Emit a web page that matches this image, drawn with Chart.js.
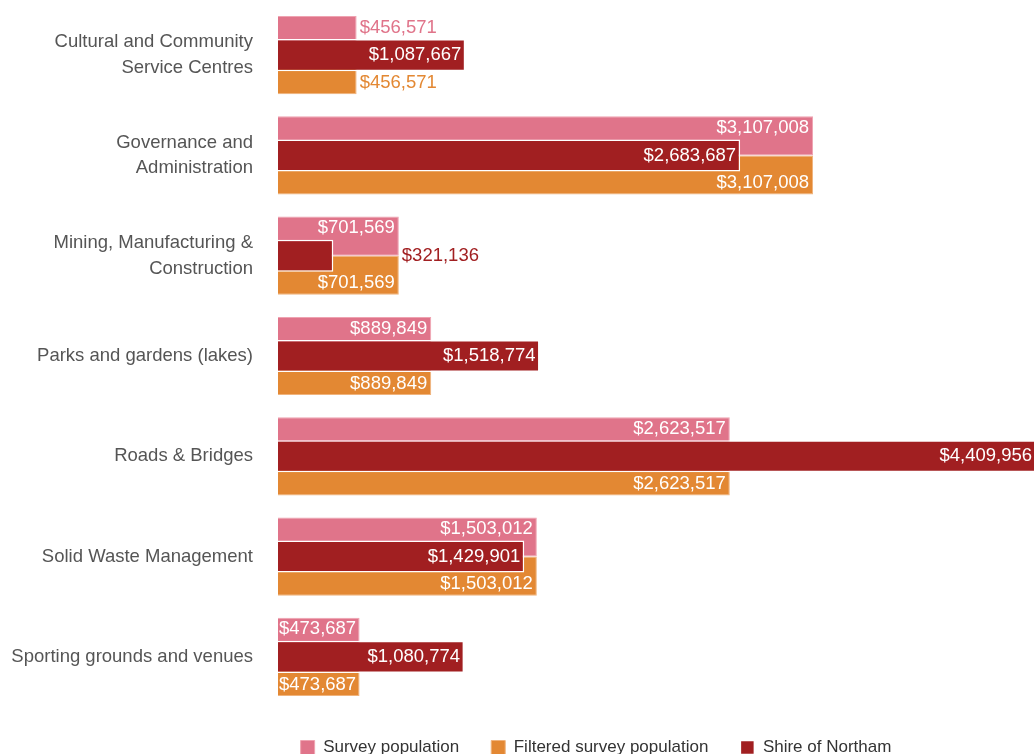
<!DOCTYPE html>
<html>
<head>
<meta charset="utf-8">
<script src="https://cdn.jsdelivr.net/npm/chart.js@4"></script>
<style>
  html, body { margin: 0; padding: 0; background: #fff; overflow: hidden; }
  #wrap { width: 1034px; height: 766px; }
</style>
</head>
<body>
<div id="wrap"><canvas id="myChart" width="1034" height="766"></canvas></div>
<script>
const categories = [
    ['Cultural and Community', 'Service Centres'],
    ['Governance and', 'Administration'],
    ['Mining, Manufacturing &', 'Construction'],
    'Parks and gardens (lakes)',
    'Roads & Bridges',
    'Solid Waste Management',
    'Sporting grounds and venues'
];
const surveyPopulation = [456571, 3107008, 701569, 889849, 2623517, 1503012, 473687];
const filteredPopulation = [456571, 3107008, 701569, 889849, 2623517, 1503012, 473687];
const shireOfNortham = [1087667, 2683687, 321136, 1518774, 4409956, 1429901, 1080774];

const pink = '#E0748A';
const orange = '#E38833';
const darkRed = '#A11F21';
const font = 'Arial, "Liberation Sans", sans-serif';

const money = (v) => '$' + v.toLocaleString('en-US');

// value labels: white inside the bar end, bar coloured outside when it doesn't fit
const valueLabels = {
    id: 'valueLabels',
    afterDatasetsDraw(chart) {
        const c = chart.ctx;
        const metaPink = chart.getDatasetMeta(0);
        const metaOrange = chart.getDatasetMeta(1);
        const metaShire = chart.getDatasetMeta(2);
        c.save();
        c.font = '18.5px ' + font;
        c.textBaseline = 'middle';
        c.textAlign = 'left';
        categories.forEach((cat, i) => {
            const p = metaPink.data[i], o = metaOrange.data[i], s = metaShire.data[i];
            const sTop = s.y - s.height / 2, sBot = s.y + s.height / 2;
            const items = [
                { el: p, v: surveyPopulation[i], color: pink, y: ((p.y - p.height / 2) + sTop) / 2, after: p.x },
                { el: o, v: filteredPopulation[i], color: orange, y: ((o.y + o.height / 2) + sBot) / 2, after: o.x },
                { el: s, v: shireOfNortham[i], color: darkRed, y: s.y, after: Math.max(p.x, o.x, s.x) }
            ];
            items.forEach((it) => {
                const txt = money(it.v);
                const w = c.measureText(txt).width;
                const start = it.el.base;
                const end = Math.min(it.el.x, chart.chartArea.right + 2);
                if (w + 3 <= end - start) {
                    c.fillStyle = '#ffffff';
                    let x = end - 4 - w;
                    if (x < start + 1) x = start + 1;
                    c.fillText(txt, x, it.y);
                } else {
                    c.fillStyle = it.color;
                    c.fillText(txt, it.after + 3, it.y);
                }
            });
        });
        c.restore();
    }
};

// nudge the legend row to the right
const legendShift = {
    id: 'legendShift',
    afterLayout(chart) {
        chart.legend.left += 79;
        chart.legend.right += 79;
    }
};

new Chart(document.getElementById('myChart'), {
    type: 'bar',
    data: {
        labels: categories,
        datasets: [{
            label: 'Survey population',
            data: surveyPopulation,
            backgroundColor: pink,
            borderColor: '#EFA3B1',
            borderWidth: 1,
            categoryPercentage: 0.78,
            barPercentage: 1.0,
            order: 1
        }, {
            label: 'Filtered survey population',
            data: filteredPopulation,
            backgroundColor: orange,
            borderColor: '#F0B37C',
            borderWidth: 1,
            categoryPercentage: 0.78,
            barPercentage: 1.0,
            order: 2
        }, {
            label: 'Shire of Northam',
            data: shireOfNortham,
            backgroundColor: darkRed,
            borderColor: '#ffffff',
            borderWidth: 1.5,
            grouped: false,
            categoryPercentage: 0.32,
            barPercentage: 1.0,
            order: 0
        }]
    },
    options: {
        indexAxis: 'y',
        responsive: false,
        animation: false,
        layout: { padding: { top: 5, right: 0, left: 0, bottom: 0 } },
        scales: {
            x: {
                display: false,
                min: 0,
                max: 4390000
            },
            y: {
                offset: true,
                grid: { display: false, drawTicks: false },
                border: { display: false },
                ticks: {
                    padding: 25,
                    color: '#555555',
                    font: { family: font, size: 18.5, lineHeight: 1.4 }
                },
                afterFit(scale) {
                    scale.width = 278;
                    scale.paddingTop = 0;
                    scale.paddingBottom = 0;
                }
            }
        },
        plugins: {
            tooltip: { enabled: false },
            legend: {
                position: 'bottom',
                labels: {
                    boxWidth: 14,
                    boxHeight: 14,
                    padding: 32,
                    color: '#333333',
                    font: { family: font, size: 17 },
                    sort: (a, b) => a.datasetIndex - b.datasetIndex
                }
            }
        }
    },
    plugins: [valueLabels, legendShift]
});
</script>
</body>
</html>
